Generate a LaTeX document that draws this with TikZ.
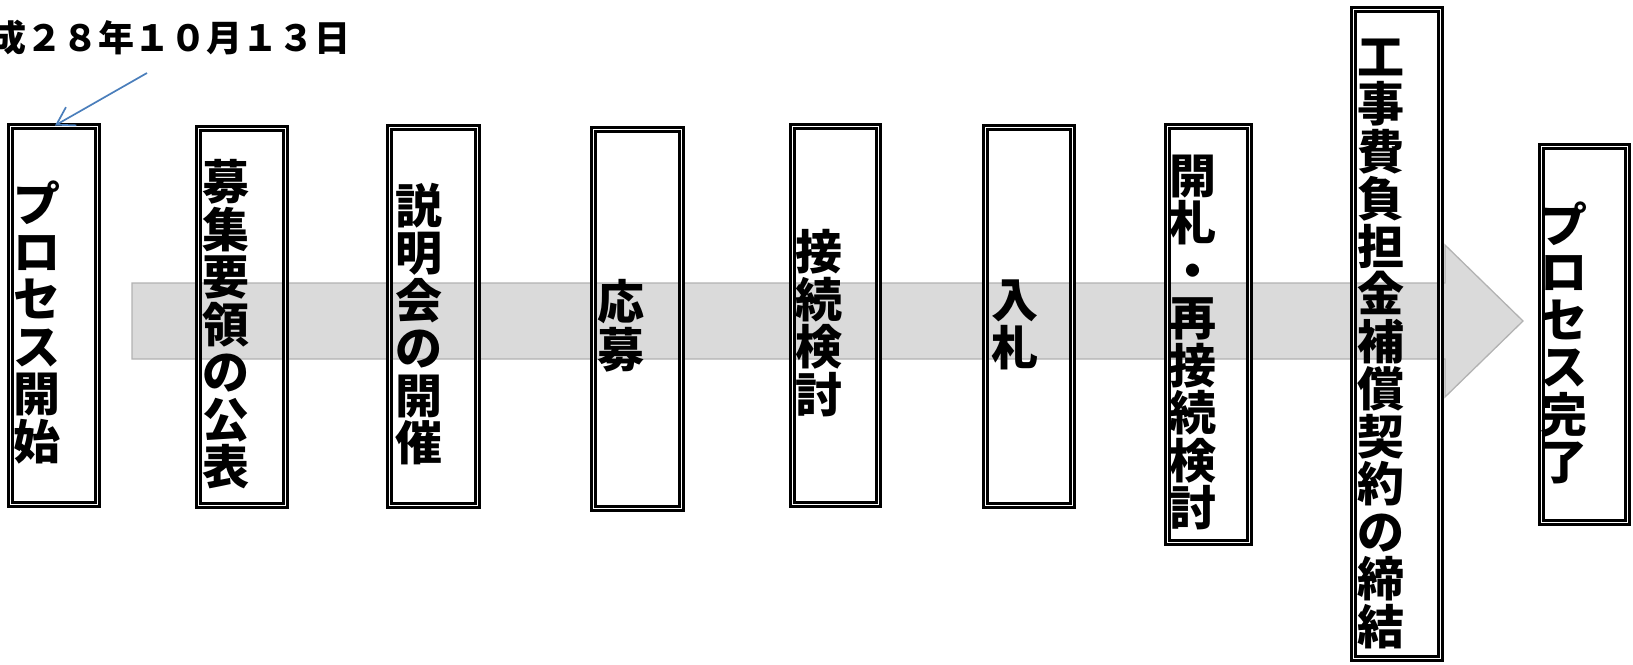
\documentclass[tikz,border=0pt]{standalone}
\usepackage{fontspec}
\newfontfamily\jp{Noto Sans CJK JP}
\usetikzlibrary{arrows.meta}
\definecolor{arrowfill}{HTML}{DADADA}
\definecolor{arrowline}{HTML}{B2B2B2}
\definecolor{noteblue}{HTML}{4A7EBB}
\tikzset{
  stepbox/.style={draw=black, line width=2.6pt, double=white, double distance=1.8pt,
    inner sep=0pt, rectangle},
  vtext/.style={font=\jp\bfseries\fontsize{47}{47.5}\selectfont, align=center,
    inner sep=0pt, anchor=west},
}
\begin{document}
\begin{tikzpicture}[x=1pt,y=-1pt]
\useasboundingbox (0,0) rectangle (1633,664);
\clip (0,0) rectangle (1633,664);
% big background arrow
\draw[fill=arrowfill, draw=arrowline, line width=1.3pt, line join=miter]
  (132,283) -- (1445,283) -- (1445,245) -- (1523,321) -- (1445,397) -- (1445,359) -- (132,359) -- cycle;
% boxes: minimum size = outer size - 7
\node[stepbox, minimum width=87pt, minimum height=378pt] (b1) at (54,315.5) {};
\node[stepbox, minimum width=87pt, minimum height=377pt] (b2) at (242,317) {};
\node[stepbox, minimum width=88pt, minimum height=378pt] (b3) at (433.5,316.5) {};
\node[stepbox, minimum width=88pt, minimum height=379pt] (b4) at (637.5,319) {};
\node[stepbox, minimum width=86pt, minimum height=378pt] (b5) at (835.5,315.5) {};
\node[stepbox, minimum width=87pt, minimum height=378pt] (b6) at (1029,316.5) {};
\node[stepbox, minimum width=82pt, minimum height=416pt] (b7) at (1208.5,334.5) {};
\node[stepbox, minimum width=87pt, minimum height=649pt] (b8) at (1397,334) {};
\node[stepbox, minimum width=86pt, minimum height=376pt] (b9) at (1584.5,334.5) {};
% texts
\node[vtext] (t1) at (13,322.5) {プ\\ロ\\セ\\ス\\開\\始};
\node[vtext] (t2) at (202,324.5) {募\\集\\要\\領\\の\\公\\表};
\node[vtext] (t3) at (395,324) {説\\明\\会\\の\\開\\催};
\node[vtext] (t4) at (597,326) {応\\募};
\node[vtext] (t5) at (795,323) {接\\続\\検\\討};
\node[vtext] (t6) at (991,325) {入\\札};
\node[vtext] (t7) at (1169,342.5) {開\\札\\・\\再\\接\\続\\検\\討};
\node[vtext] (t8) at (1357,343.5) {工\\事\\費\\負\\担\\金\\補\\償\\契\\約\\の\\締\\結};
\node[vtext] (t9) at (1540,343) {プ\\ロ\\セ\\ス\\完\\了};
% date label
\node[font=\jp\bfseries\fontsize{36}{40}\selectfont, inner sep=0pt, anchor=base east]
  (date) at (351,51.5) {平成２８年１０月１３日};
\coordinate (dtail) at (147,73);
\coordinate (dhead) at (55,125.5);
\draw[noteblue, line width=1.7pt, -{Straight Barb[length=17pt,width=21pt,line width=1.7pt]}]
  (dtail) -- (dhead);
\end{tikzpicture}
\end{document}
